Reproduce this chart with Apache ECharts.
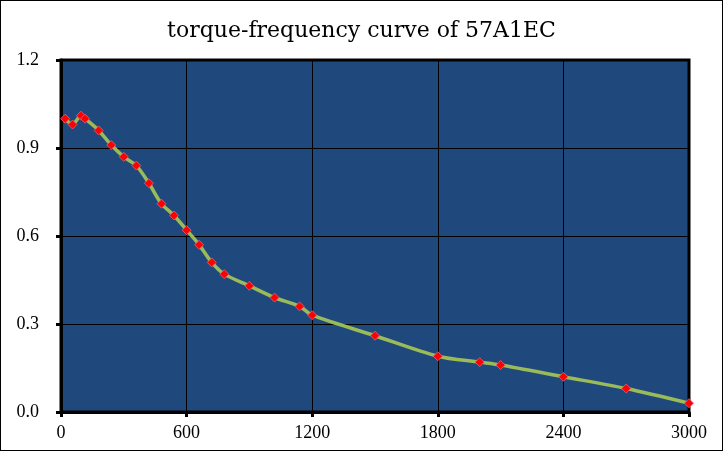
<!DOCTYPE html>
<html>
<head>
<meta charset="utf-8">
<script src="https://cdn.jsdelivr.net/npm/echarts@6/dist/echarts.min.js"></script>
<style>
html,body{margin:0;padding:0;background:#fff;}
#c{width:723px;height:451px;box-sizing:border-box;border:1px solid #000;}
</style>
</head>
<body>
<div id="c"></div>
<script>
var titleText = 'torque-frequency curve of 57A1EC';
var frequency = [20, 55, 95, 115, 180, 240, 300, 360, 420, 480, 540, 600, 660, 720, 780, 900, 1020, 1140, 1200, 1500, 1800, 2000, 2100, 2400, 2700, 3000];
var torque = [1.00, 0.98, 1.01, 1.00, 0.96, 0.91, 0.87, 0.84, 0.78, 0.71, 0.67, 0.62, 0.57, 0.51, 0.47, 0.43, 0.39, 0.36, 0.33, 0.26, 0.19, 0.17, 0.16, 0.12, 0.08, 0.03];

var points = frequency.map(function (f, i) { return [f, torque[i]]; });
var chart = echarts.init(document.getElementById('c'), null, {renderer: 'canvas'});
chart.setOption({
  animation: false,
  title: {
    text: titleText,
    left: 'center',
    top: 14,
    textStyle: {fontFamily: 'DejaVu Serif', fontSize: 22, fontWeight: 'normal', color: '#000'}
  },
  grid: {
    left: 60, right: 33, top: 59, bottom: 38,
    show: true,
    backgroundColor: '#1F497D',
    borderColor: '#000',
    borderWidth: 3
  },
  xAxis: {
    type: 'value',
    min: 0, max: 3000, interval: 600,
    axisLine: {show: true, lineStyle: {color: '#000', width: 3}},
    axisTick: {show: true, length: 5, lineStyle: {color: '#000', width: 3}},
    axisLabel: {color: '#000', fontFamily: 'Liberation Serif', fontSize: 18, margin: 12,
      formatter: function (v) { return String(v); }},
    splitLine: {show: true, lineStyle: {color: '#000', width: 1}}
  },
  yAxis: {
    type: 'value',
    min: 0, max: 1.2, interval: 0.3,
    axisLine: {show: true, lineStyle: {color: '#000', width: 3}},
    axisTick: {show: true, length: 5, lineStyle: {color: '#000', width: 3}},
    axisLabel: {color: '#000', fontFamily: 'Liberation Serif', fontSize: 18, margin: 22,
      formatter: function (v) { return v.toFixed(1); }},
    splitLine: {show: true, lineStyle: {color: '#000', width: 1}}
  },
  series: [{
    type: 'line',
    data: points,
    smooth: 0.3,
    lineStyle: {color: '#9BBB59', width: 3.5},
    symbol: 'diamond',
    symbolSize: 9,
    itemStyle: {color: '#FF0000', borderColor: '#E8607A', borderWidth: 0.8}
  }]
});
</script>
</body>
</html>
